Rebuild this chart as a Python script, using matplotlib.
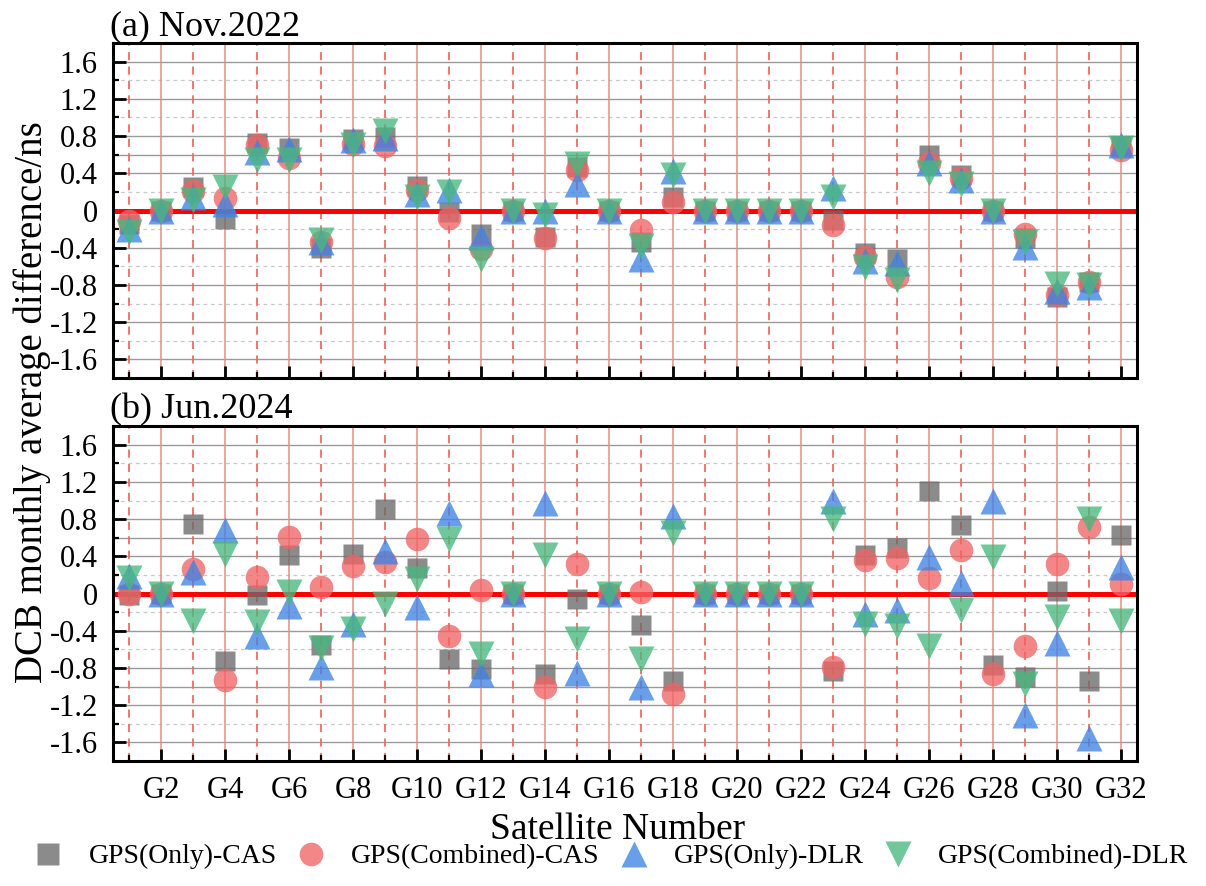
import matplotlib
matplotlib.use("Agg")
import matplotlib.pyplot as plt
from matplotlib.lines import Line2D
from matplotlib.ticker import FixedLocator, FuncFormatter

plt.rcParams['font.family'] = ['Liberation Serif', 'DejaVu Serif']
plt.rcParams['axes.unicode_minus'] = False

# Satellite PRN numbers G1..G32
sat_numbers = list(range(1, 33))
tick_sats = [n for n in sat_numbers if n % 2 == 0]
tick_labels = [f"G{n}" for n in tick_sats]

series_names = ["GPS(Only)-CAS", "GPS(Combined)-CAS", "GPS(Only)-DLR", "GPS(Combined)-DLR"]

# (a) Nov.2022 monthly average DCB differences (ns)
only_cas_2022 = [-0.15, 0, 0.25, -0.09, 0.73, 0.67, -0.40, 0.77, 0.79, 0.26, -0.02, -0.25, 0, -0.28, 0.47, 0,
                 -0.34, 0.14, 0, 0, 0, 0, -0.10, -0.46, -0.52, 0.60, 0.38, 0, -0.30, -0.93, -0.77, 0.69]
comb_cas_2022 = [-0.11, 0, 0.21, 0.13, 0.70, 0.56, -0.34, 0.72, 0.69, 0.22, -0.08, -0.41, 0, -0.30, 0.44, 0,
                 -0.21, 0.09, 0, 0, 0, 0, -0.16, -0.50, -0.72, 0.51, 0.35, 0, -0.25, -0.91, -0.77, 0.65]
only_dlr_2022 = [-0.20, 0, 0.14, 0.07, 0.63, 0.66, -0.34, 0.76, 0.78, 0.18, 0.22, -0.28, 0, -0.01, 0.29, 0,
                 -0.52, 0.42, 0, 0, 0, 0, 0.24, -0.54, -0.56, 0.51, 0.33, 0, -0.39, -0.86, -0.82, 0.70]
comb_dlr_2022 = [-0.23, 0, 0.11, 0.25, 0.54, 0.54, -0.32, 0.70, 0.86, 0.15, 0.20, -0.52, 0, -0.05, 0.50, 0,
                 -0.38, 0.38, 0, 0, 0, 0, 0.14, -0.61, -0.75, 0.40, 0.28, 0, -0.34, -0.79, -0.80, 0.67]

# (b) Jun.2024 monthly average DCB differences (ns)
only_cas_2024 = [-0.02, 0, 0.75, -0.72, -0.02, 0.41, -0.55, 0.43, 0.91, 0.27, -0.70, -0.81, 0, -0.86, -0.06, 0,
                 -0.34, -0.94, 0, 0, 0, 0, -0.83, 0.41, 0.49, 1.10, 0.74, -0.77, -0.90, 0.03, -0.94, 0.63]
comb_cas_2024 = [-0.01, 0, 0.26, -0.93, 0.18, 0.61, 0.07, 0.30, 0.34, 0.59, -0.46, 0.04, 0, -1.00, 0.32, 0,
                 0.02, -1.08, 0, 0, 0, 0, -0.79, 0.36, 0.38, 0.17, 0.47, -0.86, -0.56, 0.32, 0.71, 0.10]
only_dlr_2024 = [0.19, 0, 0.23, 0.68, -0.46, -0.13, -0.79, -0.33, 0.46, -0.15, 0.87, -0.86, 0, 0.97, -0.85, 0,
                 -1.01, 0.83, 0, 0, 0, 0, 1.00, -0.22, -0.18, 0.39, 0.11, 1.00, -1.31, -0.53, -1.55, 0.28]
comb_dlr_2024 = [0.17, 0, -0.29, 0.43, -0.31, 0.02, -0.59, -0.38, -0.11, 0.16, 0.59, -0.65, 0, 0.41, -0.49, 0,
                 -0.70, 0.65, 0, 0, 0, 0, 0.80, -0.33, -0.35, -0.56, -0.18, 0.39, -0.97, -0.25, 0.80, -0.29]

y_major = [-1.6, -1.2, -0.8, -0.4, 0, 0.4, 0.8, 1.2, 1.6]
y_minor = [-1.4, -1.0, -0.6, -0.2, 0.2, 0.6, 1.0, 1.4]

styles = [
    dict(marker='s', color='#6b6b6b', ms=14.5),
    dict(marker='o', color='#f06464', ms=17),
    dict(marker='^', color='#3f83e4', ms=18.5),
    dict(marker='v', color='#48b87e', ms=18.5),
]
ALPHA = 0.78

fig = plt.figure(figsize=(12.06, 8.86), dpi=100)
ax_a = fig.add_axes([0.0937, 0.5734, 0.849, 0.378])
ax_b = fig.add_axes([0.0937, 0.1411, 0.849, 0.378])

panels = [
    (ax_a, "(a) Nov.2022", [only_cas_2022, comb_cas_2022, only_dlr_2022, comb_dlr_2022], [0.6]),
    (ax_b, "(b) Jun.2024", [only_cas_2024, comb_cas_2024, only_dlr_2024, comb_dlr_2024], [0.6, -1.0]),
]

for ax, title, series, extra_solid in panels:
    ax.set_xlim(0.5, 32.5)
    ax.set_ylim(-1.8, 1.8)

    # horizontal reference grid
    for v in y_major:
        if v != 0:
            ax.axhline(v, color='#9a9a9a', lw=1.0, zorder=1)
    for v in y_minor:
        if v in extra_solid:
            ax.axhline(v, color='#9a9a9a', lw=1.0, zorder=1)
        else:
            ax.axhline(v, color='#c8c8c8', lw=0.9, ls=(0, (3, 3)), zorder=1)

    # satellite separators: solid on even PRNs, dashed on odd PRNs
    for n in sat_numbers:
        if n % 2 == 0:
            ax.axvline(n, color='#ec8a8a', lw=1.1, zorder=1.5)
        else:
            ax.axvline(n, color='#ee6a6a', lw=1.3, ls=(0, (4.5, 3.5)), zorder=1.5)

    ax.axhline(0, color='#ff0000', lw=3.6, zorder=2)

    for k, (vals, st) in enumerate(zip(series, styles)):
        ax.plot(sat_numbers, vals, ls='none', marker=st['marker'], ms=st['ms'],
                color=st['color'], mec='none', alpha=ALPHA, zorder=3 + k)

    ax.xaxis.set_major_locator(FixedLocator(tick_sats))
    ax.xaxis.set_minor_locator(FixedLocator([n for n in sat_numbers if n % 2 == 1]))
    ax.yaxis.set_major_locator(FixedLocator(y_major))
    ax.yaxis.set_minor_locator(FixedLocator(y_minor))
    ax.yaxis.set_major_formatter(FuncFormatter(lambda v, p: '0' if abs(v) < 1e-9 else f'{v:.1f}'))

    ax.tick_params(axis='both', which='major', direction='in', length=9, width=2,
                   labelsize=22, top=False, right=False)
    ax.tick_params(axis='both', which='minor', direction='in', length=4.5, width=1.6,
                   top=False, right=False)
    ax.tick_params(axis='y', which='major', pad=11)
    ax.tick_params(axis='x', which='major', pad=11)

    for sp in ax.spines.values():
        sp.set_linewidth(2.2)
        sp.set_zorder(10)

    ax.set_title(title, loc='left', fontsize=26, pad=3, x=-0.003)

ax_a.set_xticklabels([])
ax_b.set_xticklabels(tick_labels)

fig.text(0.027, 0.546, "DCB monthly average difference/ns", rotation=90,
         ha='center', va='center', fontsize=28)
fig.text(0.512, 0.064, "Satellite Number", ha='center', va='center', fontsize=27)

handles = [Line2D([], [], ls='none', marker=st['marker'], color=st['color'], mec='none',
                  alpha=ALPHA, ms=st['ms'] + (1.0 if st['marker'] == 's' else 0))
           for st in styles]
fig.legend(handles, series_names, loc='center', bbox_to_anchor=(0.507, 0.033), ncol=4,
           frameon=False, fontsize=20, handlelength=1.0, handletextpad=0.95,
           columnspacing=0.72, borderpad=0, borderaxespad=0)

fig.savefig("out.png", dpi=100)
